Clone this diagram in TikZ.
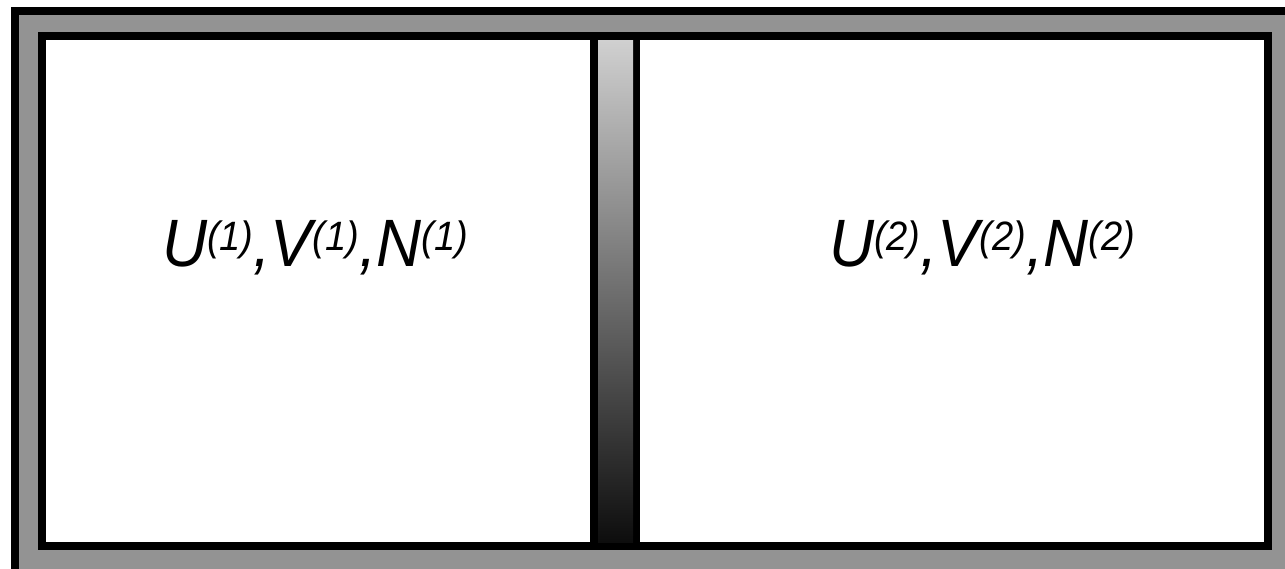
\documentclass[tikz,border=0pt]{standalone}
\usepackage{fontspec}
\setmainfont{Liberation Sans}
\definecolor{framegray}{RGB}{147,147,147}
\definecolor{walltop}{RGB}{208,208,208}
\definecolor{wallbot}{RGB}{13,13,13}
\newcommand\supx[1]{\raisebox{16pt}{\fontsize{41}{48}\selectfont #1}}
\newcommand\narrow[1]{\scalebox{0.93}[1]{#1}}
\begin{document}
\begin{tikzpicture}[x=1pt,y=-1pt,
  frame/.style={draw=black,line width=8pt,fill=framegray},
  chamber/.style={draw=black,line width=8pt,fill=white},
  label/.style={anchor=base,inner sep=0pt,font=\fontsize{67}{80}\selectfont\itshape}]
\useasboundingbox (0,0) rectangle (1285,568);
\clip (0,0) rectangle (1285,568);
\draw[frame] (15,11) rectangle (1310,600);
\draw[chamber] (42,36) rectangle (1267.5,545.5);
\fill[black] (590,40) rectangle (640,542);
\shade[top color=walltop,bottom color=wallbot] (598,40) rectangle (633,542);
\node[label] (left) at (315,266) {\narrow{U\supx{(1)},V\supx{(1)},N\supx{(1)}}};
\node[label] (right) at (982,266) {\narrow{U\supx{(2)},V\supx{(2)},N\supx{(2)}}};
\end{tikzpicture}
\end{document}
